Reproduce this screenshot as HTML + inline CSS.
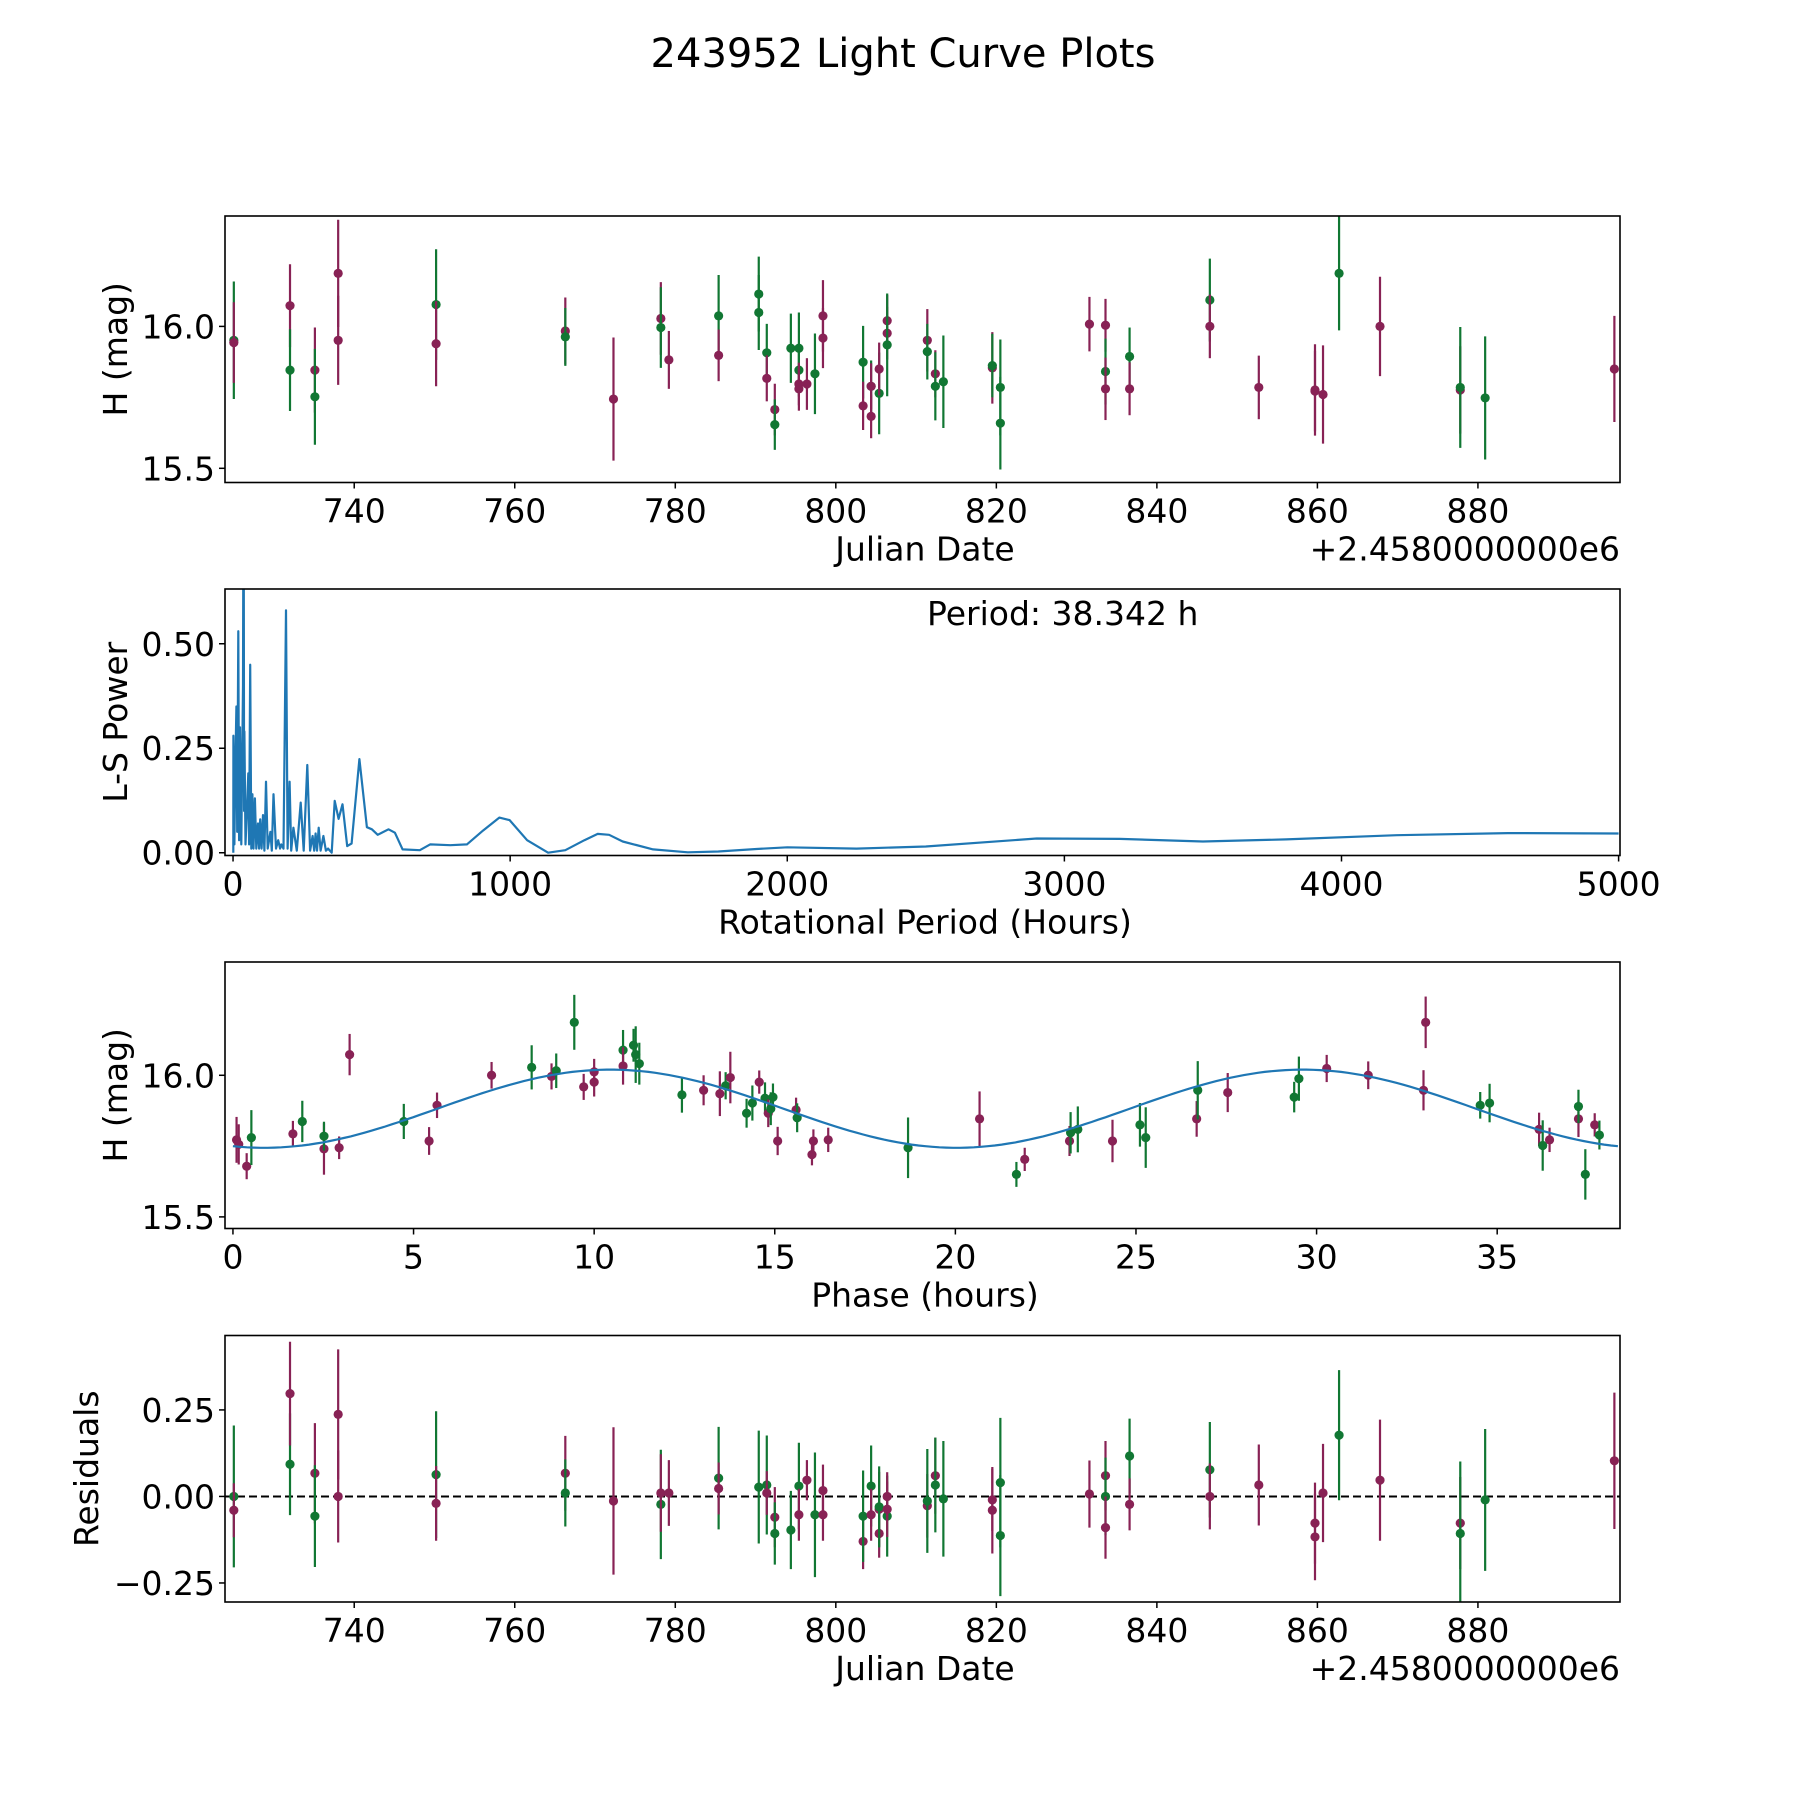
<!DOCTYPE html>
<html><head><meta charset="utf-8"><style>
html,body{margin:0;padding:0;background:#fff;}
svg text{font-family:"DejaVu Sans","Liberation Sans",sans-serif;fill:#000;}
</style></head><body>
<svg id="fig" xmlns="http://www.w3.org/2000/svg" width="1800" height="1800" viewBox="0 0 1800 1800">
<rect width="1800" height="1800" fill="#fff"/>
<text x="903" y="67" font-size="40" text-anchor="middle">243952 Light Curve Plots</text>
</svg>
<script>
// ---- Panel 1: light curve data ----
const lcDates=[725.0,725.0,732.0,732.0,735.1,735.1,738.0,738.0,750.2,750.2,766.3,766.3,772.3,778.2,778.2,779.2,785.4,785.4,790.4,790.4,791.4,791.4,792.4,792.4,794.4,795.4,795.4,795.4,795.4,796.4,797.4,798.4,798.4,803.4,803.4,804.4,804.4,804.4,805.4,805.4,806.4,806.4,806.4,811.4,811.4,812.4,812.4,813.4,819.5,819.5,820.5,820.5,831.6,833.6,833.6,833.6,836.6,836.6,846.6,846.6,852.7,859.7,859.7,860.7,862.7,867.8,877.8,877.8,880.9,897.0];
const lcMags=[15.951,15.943,16.073,15.846,15.846,15.752,16.187,15.951,16.077,15.939,15.984,15.963,15.744,16.028,15.996,15.882,16.037,15.898,16.114,16.049,15.907,15.817,15.707,15.654,15.923,15.923,15.846,15.797,15.780,15.797,15.833,16.037,15.959,15.874,15.720,15.789,15.789,15.683,15.764,15.850,16.020,15.976,15.935,15.951,15.911,15.833,15.789,15.805,15.854,15.862,15.785,15.659,16.008,16.004,15.841,15.780,15.894,15.780,16.093,16.000,15.785,15.776,15.772,15.760,16.187,16.000,15.776,15.785,15.748,15.850];
const lcErrs=[.207,.142,.146,.144,.150,.169,.189,.157,.195,.150,.118,.102,.217,.128,.142,.102,.144,.091,.132,.132,.102,.081,.091,.089,.122,.126,.093,.075,.077,.091,.142,.126,.106,.128,.085,.091,.081,.077,.144,.093,.091,.093,.181,.110,.098,.083,.120,.163,.126,.112,.169,.163,.096,.093,.116,.110,.102,.093,.146,.112,.112,.161,.142,.173,.201,.175,.154,.213,.217,.187];
const lcFilt=['g','p','p','g','p','g','p','p','g','p','p','g','p','p','g','p','g','p','g','g','g','p','p','g','g','g','g','p','p','p','g','p','p','g','p','g','p','p','g','p','p','p','g','p','g','p','g','g','p','g','g','g','p','p','g','p','g','p','g','p','p','p','p','p','g','p','p','g','g','p'];
// ---- Panel 2: periodogram ----
const lsPeriods=[1,1.4,5,8,12,15,19,22,25,30,36,38.3,40,41,45,50,55,58,62,66,70,74,79,84,90,94,98,103,108,113,119,125,135,140,146,155,163,170,174,182,191,197,204,210,218,230,244,255,268,278,287,293,298,303,309,316,326,335,343,356,367,381,395,412,428,456,483,501,522,561,584,612,674,711,784,844,902,961,998,1061,1137,1199,1268,1316,1357,1406,1516,1641,1751,1889,2000,2250,2500,2900,3200,3500,3800,4200,4600,5000];
const lsPowers=[0,.28,.02,.2,.35,.05,.53,.03,.3,.02,.4,1.0,.1,.29,.02,.1,.19,.02,.45,.01,.14,.01,.13,.01,.07,.01,.08,.01,.09,.005,.17,.01,.05,.005,.14,.01,.03,.01,.02,.01,.58,.01,.17,.005,.06,.005,.12,.005,.21,.005,.04,.005,.046,.005,.06,.005,.04,.005,.01,0,.124,.081,.116,.016,.022,.224,.061,.056,.043,.056,.048,.008,.006,.02,.018,.02,.053,.084,.078,.03,0,.006,.03,.045,.043,.027,.008,.001,.003,.009,.013,.010,.015,.034,.033,.027,.032,.042,.047,.046];
const bestPeriod=38.342;
// ---- Panel 3: phased data ----
const phPhase=[.10,.16,.38,.51,1.66,1.92,2.52,2.52,2.94,3.23,4.73,5.43,5.65,7.16,8.27,8.82,8.95,9.45,9.71,10.0,10.0,10.8,10.8,11.09,11.15,11.25,12.43,13.03,13.48,13.64,13.77,14.22,14.38,14.57,14.73,14.82,14.89,14.95,15.08,15.59,15.62,16.03,16.07,16.48,18.69,20.67,21.69,21.92,23.16,23.19,23.39,24.35,25.11,25.27,26.68,26.71,27.54,29.38,29.51,30.28,31.43,32.96,33.02,34.53,34.79,36.16,36.26,36.45,37.25,37.25,37.44,37.70,37.83];
const phMags=[15.772,15.756,15.679,15.780,15.793,15.837,15.740,15.785,15.744,16.073,15.837,15.768,15.894,16.0,16.028,15.996,16.016,16.187,15.959,15.976,16.012,16.089,16.033,16.106,16.073,16.041,15.931,15.947,15.935,15.963,15.992,15.866,15.902,15.976,15.919,15.866,15.882,15.923,15.768,15.878,15.850,15.720,15.768,15.772,15.744,15.846,15.650,15.703,15.768,15.797,15.809,15.768,15.825,15.780,15.846,15.947,15.939,15.923,15.988,16.024,16.0,15.947,16.187,15.894,15.902,15.809,15.752,15.772,15.846,15.890,15.650,15.825,15.789];
const phErrs=[.081,.071,.046,.097,.046,.073,.091,.051,.04,.073,.062,.049,.045,.047,.078,.046,.061,.097,.046,.051,.046,.071,.066,.058,.1,.074,.063,.053,.079,.048,.091,.051,.062,.041,.056,.049,.058,.048,.05,.043,.051,.038,.041,.043,.107,.097,.044,.041,.053,.073,.081,.075,.077,.107,.063,.103,.069,.054,.078,.048,.049,.071,.091,.047,.068,.059,.089,.043,.064,.059,.089,.041,.051];
const phFilt=['p','p','p','g','p','g','p','g','p','p','g','p','p','p','g','p','g','g','p','p','p','g','p','g','g','g','g','p','p','g','p','g','g','p','g','p','g','g','p','p','g','p','p','p','g','p','g','p','p','g','g','p','g','g','p','g','p','g','g','p','p','p','p','g','g','p','g','p','p','g','g','p','g'];
const modelMean=15.882, modelAmp=0.138, modelPeakPhase=10.45;
// ---- Panel 4: residuals ----
const resDates=[725.0,725.0,732.0,732.0,735.1,735.1,738.0,738.0,750.2,750.2,766.3,766.3,772.3,778.2,778.2,779.2,785.4,785.4,790.4,791.4,791.4,792.4,792.4,794.4,795.4,795.4,796.4,797.4,798.4,798.4,803.4,803.4,804.4,804.4,805.4,805.4,805.4,806.4,806.4,806.4,811.4,811.4,812.4,812.4,813.4,819.5,819.5,820.5,820.5,831.6,833.6,833.6,833.6,836.6,836.6,846.6,846.6,852.7,859.7,859.7,860.7,862.7,867.8,877.8,877.8,880.9,897.0];
const resVals=[0,-.040,.093,.297,.067,-.057,.237,0,.063,-.020,.067,.010,-.013,-.023,.010,.010,.053,.023,.027,.033,.010,-.060,-.107,-.097,.030,-.053,.047,-.053,.017,-.053,-.130,-.057,.030,-.053,-.037,-.107,-.030,-.057,-.037,0,-.027,-.013,.060,.033,-.007,-.040,-.010,.040,-.113,.007,.060,0,-.090,.117,-.023,.077,0,.033,-.117,-.077,.010,.177,.047,-.077,-.107,-.010,.103];
const resErrs=[.205,.078,.147,.150,.145,.147,.188,.133,.183,.108,.108,.097,.213,.158,.112,.095,.148,.075,.163,.143,.063,.087,.09,.113,.125,.075,.058,.18,.075,.075,.08,.132,.117,.075,.108,.07,.117,.117,.08,.07,.092,.15,.11,.137,.167,.125,.09,.187,.175,.097,.10,.112,.09,.108,.075,.138,.095,.117,.125,.117,.142,.188,.175,.133,.208,.205,.197];
const resFilt=['g','p','g','p','p','g','p','p','g','p','p','g','p','g','p','p','g','p','g','g','p','p','g','g','g','p','p','g','p','p','p','g','g','p','p','p','g','g','p','p','p','g','p','g','g','p','p','g','g','p','p','g','p','g','p','g','p','p','p','p','p','g','p','p','g','g','p'];

const NS='http://www.w3.org/2000/svg';
const svg=document.getElementById('fig');
const COL={p:'#882255',g:'#117733'};
const L=225,R=1620,H=266.5;
const TOPS=[216,589,962,1335.5];
const FS=33;
function mk(tag,attrs,parent){const e=document.createElementNS(NS,tag);for(const k in attrs)e.setAttribute(k,attrs[k]);(parent||svg).appendChild(e);return e;}
function scale(d0,d1,r0,r1){return v=>r0+(v-d0)*(r1-r0)/(d1-d0);}
function axesFrame(i,name){
  const g=mk('g',{});
  
  
  return g;
}
function drawFrame(g,top){
  const r=mk('rect',{x:L,y:top,width:R-L,height:H,fill:'none',stroke:'#000','stroke-width':1.6},g);
  
  
}
function xTicks(g,top,xs,vals,labels){
  vals.forEach((v,i)=>{const x=xs(v);
    mk('line',{x1:x,x2:x,y1:top+H,y2:top+H+6,stroke:'#000','stroke-width':1.5},g);
    const t=mk('text',{x:x,y:top+H+40,'font-size':FS,'text-anchor':'middle'},g);t.textContent=labels[i];
    
    
  });
}
function yTicks(g,top,ys,vals,labels){
  vals.forEach((v,i)=>{const y=ys(v);
    mk('line',{x1:L-6,x2:L,y1:y,y2:y,stroke:'#000','stroke-width':1.5},g);
    const t=mk('text',{x:L-10,y:y+12,'font-size':FS,'text-anchor':'end'},g);t.textContent=labels[i];
    
    
  });
}
function label(g,text,x,y,rot,name,anchor){
  const t=mk('text',{x:x,y:y,'font-size':FS,'text-anchor':anchor||'middle'},g);
  if(rot)t.setAttribute('transform','rotate(-90 '+x+' '+y+')');
  t.textContent=text;
  
  
}
function clip(id,top){const d=mk('clipPath',{id:id});mk('rect',{x:L,y:top,width:R-L,height:H},d);}
function errPoints(g,xs,ys,X,Y,E,F,cid){
  const gg=mk('g',{'clip-path':'url(#'+cid+')'},g);
  X.forEach((x,i)=>{const px=xs(x),c=COL[F[i]];
    const l=mk('line',{x1:px,x2:px,y1:ys(Y[i]-E[i]),y2:ys(Y[i]+E[i]),stroke:c,'stroke-width':2.2},gg);
    
    
    const p=mk('circle',{cx:px,cy:ys(Y[i]),r:4.6,fill:c},gg);
    
    
  });
}
const dateTicks=[740,760,780,800,820,840,860,880];
const xDate=scale(723.9,897.7,L,R);

// Panel 1
(function(){const top=TOPS[0];const g=axesFrame(0,'light-curve-panel');
  const ys=scale(15.45,16.389,top+H,top);clip('c1',top);
  errPoints(g,xDate,ys,lcDates,lcMags,lcErrs,lcFilt,'c1');
  drawFrame(g,top);
  xTicks(g,top,xDate,dateTicks,dateTicks.map(String));
  yTicks(g,top,ys,[15.5,16.0],['15.5','16.0']);
  label(g,'Julian Date',925,top+H+78,false,'x-axis-title');
  label(g,'+2.4580000000e6',R,top+H+78,false,'x-offset-label','end');
  label(g,'H (mag)',127,top+H/2,true,'y-axis-title');
})();
// Panel 2
(function(){const top=TOPS[1];const g=axesFrame(1,'periodogram-panel');
  const xs=scale(-29,5005,L,R),ys=scale(-0.0066,0.631,top+H,top);clip('c2',top);
  const gg=mk('g',{'clip-path':'url(#c2)'},g);
  const pl=mk('polyline',{points:lsPeriods.map((p,i)=>xs(p).toFixed(1)+','+ys(lsPowers[i]).toFixed(1)).join(' '),fill:'none',stroke:'#1f77b4','stroke-width':2.2,'stroke-linejoin':'round'},gg);
  
  
  drawFrame(g,top);
  const xt=[0,1000,2000,3000,4000,5000];
  xTicks(g,top,xs,xt,xt.map(String));
  yTicks(g,top,ys,[0,0.25,0.5],['0.00','0.25','0.50']);
  label(g,'Rotational Period (Hours)',925,top+H+78,false,'x-axis-title');
  label(g,'L-S Power',127,top+H/2,true,'y-axis-title');
  label(g,'Period: '+bestPeriod.toFixed(3)+' h',927,top+36,false,'period-annotation','start');
})();
// Panel 3
(function(){const top=TOPS[2];const g=axesFrame(2,'phased-curve-panel');
  const xs=scale(-0.22,38.4,L,R),ys=scale(15.459,16.40,top+H,top);clip('c3',top);
  errPoints(g,xs,ys,phPhase,phMags,phErrs,phFilt,'c3');
  const pts=[];for(let k=0;k<=200;k++){const ph=bestPeriod*k/200;
    pts.push(xs(ph).toFixed(1)+','+ys(modelMean+modelAmp*Math.cos(2*Math.PI*(ph-modelPeakPhase)/(bestPeriod/2))).toFixed(1));}
  const m=mk('polyline',{points:pts.join(' '),fill:'none',stroke:'#1f77b4','stroke-width':2.2},g);
  
  
  drawFrame(g,top);
  const xt=[0,5,10,15,20,25,30,35];
  xTicks(g,top,xs,xt,xt.map(String));
  yTicks(g,top,ys,[15.5,16.0],['15.5','16.0']);
  label(g,'Phase (hours)',925,top+H+78,false,'x-axis-title');
  label(g,'H (mag)',127,top+H/2,true,'y-axis-title');
})();
// Panel 4
(function(){const top=TOPS[3];const g=axesFrame(3,'residuals-panel');
  const ys=scale(-0.305,0.465,top+H,top);clip('c4',top);
  const z=mk('line',{x1:L,x2:R,y1:ys(0),y2:ys(0),stroke:'#000','stroke-width':2,'stroke-dasharray':'8,4'},g);
  
  
  errPoints(g,xDate,ys,resDates,resVals,resErrs,resFilt,'c4');
  drawFrame(g,top);
  xTicks(g,top,xDate,dateTicks,dateTicks.map(String));
  yTicks(g,top,ys,[-0.25,0,0.25],['\u22120.25','0.00','0.25']);
  label(g,'Julian Date',925,top+H+78,false,'x-axis-title');
  label(g,'+2.4580000000e6',R,top+H+78,false,'x-offset-label','end');
  label(g,'Residuals',98,top+H/2,true,'y-axis-title');
})();
</script>
</body></html>
